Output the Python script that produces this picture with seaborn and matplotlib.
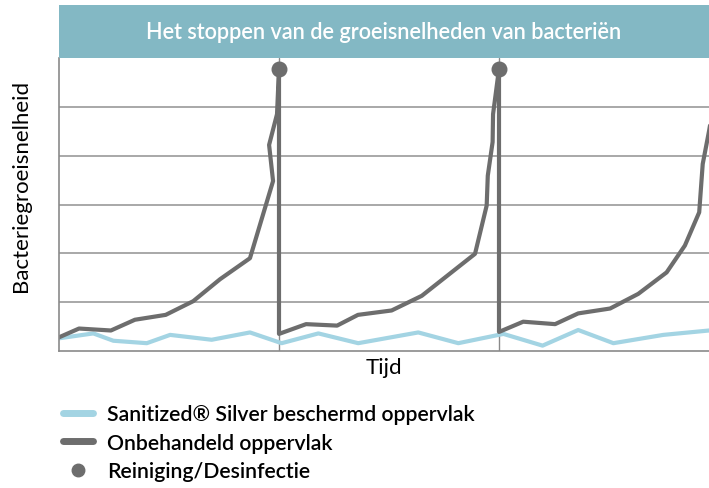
import pandas as pd
import matplotlib.pyplot as plt
import seaborn as sns
from matplotlib.lines import Line2D

# untreated surface: grows, then drops at each cleaning
untreated_x = [0, 0.91, 2.36, 3.45, 4.85, 6.10, 7.32, 8.68, 9.73, 9.55, 9.91, 10.0,
               10.0, 11.23, 12.64, 13.59, 15.12, 16.49, 18.91, 19.44, 19.49, 19.71, 19.73, 20.0,
               20.0, 21.10, 22.55, 23.60, 25.05, 26.33, 27.62, 28.45, 29.10, 29.26, 29.55, 29.7]
untreated_y = [0.28, 0.46, 0.42, 0.64, 0.74, 1.02, 1.47, 1.90, 3.48, 4.22, 4.85, 5.78,
               0.35, 0.55, 0.52, 0.74, 0.83, 1.13, 1.99, 2.98, 3.59, 4.28, 4.85, 5.78,
               0.39, 0.60, 0.55, 0.77, 0.87, 1.17, 1.61, 2.16, 2.84, 3.83, 4.51, 4.9]

# Sanitized Silver surface stays low
silver_x = [0, 1.56, 2.47, 3.99, 5.05, 6.94, 8.68, 10.12, 11.79, 13.6,
            16.33, 18.15, 20.2, 21.98, 23.6, 25.2, 27.47, 29.55]
silver_y = [0.26, 0.36, 0.21, 0.16, 0.33, 0.23, 0.38, 0.16, 0.36, 0.16,
            0.38, 0.16, 0.35, 0.11, 0.43, 0.16, 0.33, 0.42]

cleaning_x = [10, 20]
cleaning_y = [5.78, 5.78]

title = "Het stoppen van de groeisnelheden van bacteriën"
legend_labels = ["Sanitized® Silver beschermd oppervlak", "Onbehandeld oppervlak", "Reiniging/Desinfectie"]

gray = "#6d6d6d"
blue = "#a3d4e3"
band = "#83b8c4"

sns.set_style("white")
plt.rcParams['font.family'] = ['Lato', 'DejaVu Sans']
plt.rcParams['font.weight'] = 'semibold'

fig = plt.figure(figsize=(7.09, 4.89), dpi=100)
ax = fig.add_axes([59 / 709, 137 / 489, 650 / 709, 293 / 489])

for v in [1, 2, 3, 4, 5]:
    ax.axhline(v, color="#9a9a9a", lw=1.2, zorder=0)
for v in cleaning_x:
    ax.axvline(v, color="#8a8a8a", lw=1.0, zorder=0)

df_silver = pd.DataFrame({"x": silver_x, "y": silver_y})
df_untr = pd.DataFrame({"x": untreated_x, "y": untreated_y})
sns.lineplot(data=df_silver, x="x", y="y", color=blue, lw=3, sort=False, estimator=None, ax=ax)
sns.lineplot(data=df_untr, x="x", y="y", color=gray, lw=3, sort=False, estimator=None, ax=ax)
ax.scatter(cleaning_x, cleaning_y, s=110, color=gray, zorder=5, clip_on=False)

ax.set_xlim(0, 650 / 22)
ax.set_ylim(0, 6)
ax.set_xticks([])
ax.set_yticks([])
for s in ["top", "right"]:
    ax.spines[s].set_visible(False)
for s in ["left", "bottom"]:
    ax.spines[s].set_color("#8a8a8a")
    ax.spines[s].set_linewidth(1.2)

ax.set_xlabel("Tijd", fontsize=16, labelpad=4, color="black")
ax.set_ylabel("Bacteriegroeisnelheid", fontsize=16, color="black")
ax.yaxis.set_label_coords(-0.043, 0.567)

bax = fig.add_axes([59 / 709, 430 / 489, 650 / 709, 53 / 489])
bax.set_facecolor(band)
bax.set_xticks([])
bax.set_yticks([])
for s in bax.spines.values():
    s.set_visible(False)
bax.text(0.5, 0.5, title, color="white", fontsize=15.6, ha="center", va="center",
         transform=bax.transAxes)

handles = [
    Line2D([0], [0], color=blue, lw=5),
    Line2D([0], [0], color=gray, lw=5),
    Line2D([0], [0], color=gray, lw=0, marker="o", markersize=9),
]
leg = fig.legend(handles, legend_labels, loc="upper left", bbox_to_anchor=(44 / 709, 1 - 386 / 489),
                 frameon=False, fontsize=15.3, handlelength=1.4, handletextpad=0.66, labelspacing=0.4)
for t in leg.get_texts():
    t.set_color("black")

fig.savefig("out.png", dpi=100)
